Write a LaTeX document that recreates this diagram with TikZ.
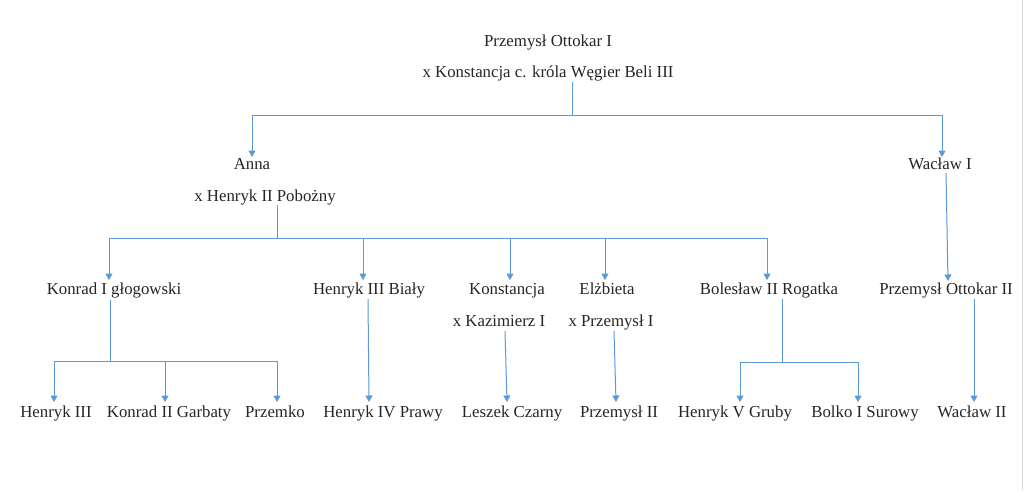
\documentclass[tikz,border=0pt]{standalone}
\usepackage{fontspec}
\setmainfont{Liberation Serif}
\usetikzlibrary{arrows.meta}
\definecolor{lnblue}{HTML}{5B9BD5}
\begin{document}
\begin{tikzpicture}[x=1pt,y=-1pt,
  person/.style={inner sep=0pt,text height=11.5pt,text depth=3.5pt,font=\fontsize{16.8}{19}\selectfont,text=black!85},
  link/.style={draw=lnblue,line width=1pt},
  arr/.style={link,-{Triangle[width=7pt,length=6.5pt]}}]
\useasboundingbox (0,0) rectangle (1024,490);
\fill[white] (0,0) rectangle (1024,490);
\draw[black!15,line width=1pt] (1022.5,0) -- (1022.5,490);
% texts
\node[person] (po1) at (548,42) {Przemysł Ottokar I};
\node[person] (po1x) at (548,73) {x Konstancja c. króla Węgier Beli III};
\node[person] (anna) at (252,165) {Anna};
\node[person] (annax) at (265,197) {x Henryk II Pobożny};
\node[person] (wac1) at (940,165) {Wacław I};
\node[person] (konr) at (114,290) {Konrad I głogowski};
\node[person] (hen3) at (369,290) {Henryk III Biały};
\node[person] (kons) at (507,290) {Konstancja};
\node[person] (konsx) at (499,322) {x Kazimierz I};
\node[person] (elz) at (607,290) {Elżbieta};
\node[person] (elzx) at (611,322) {x Przemysł I};
\node[person] (bol) at (769,290) {Bolesław II Rogatka};
\node[person] (po2) at (946,290) {Przemysł Ottokar II};
\node[person] (h3) at (56,413) {Henryk III};
\node[person] (k2) at (169,413) {Konrad II Garbaty};
\node[person] (prz) at (275,413) {Przemko};
\node[person] (h4) at (383,413) {Henryk IV Prawy};
\node[person] (les) at (512,413) {Leszek Czarny};
\node[person] (p2) at (619,413) {Przemysł II};
\node[person] (h5) at (735,413) {Henryk V Gruby};
\node[person] (bk) at (865,413) {Bolko I Surowy};
\node[person] (w2) at (972,413) {Wacław II};
% junction coordinates
\coordinate (s0) at (572,82);
\coordinate (j0) at (572,115);
\coordinate (ta) at (252,157);
\coordinate (tw) at (942,157);
\coordinate (s1) at (277,205);
\coordinate (j1) at (277,238);
\coordinate (t1) at (109,280);
\coordinate (t2) at (363,280);
\coordinate (t3) at (510,280);
\coordinate (t4) at (605,280);
\coordinate (t5) at (767,280);
\coordinate (sw) at (946,173);
\coordinate (tw2) at (948,281);
\coordinate (sk) at (110,300);
\coordinate (jk) at (110,361);
\coordinate (tk1) at (54,402);
\coordinate (tk2) at (165,402);
\coordinate (tk3) at (277,402);
\coordinate (sh) at (368,299);
\coordinate (th) at (369,402);
\coordinate (sl) at (505,331);
\coordinate (tl) at (507,402);
\coordinate (sp) at (614,331);
\coordinate (tp) at (616,402);
\coordinate (sb) at (782,299);
\coordinate (jb) at (782,362);
\coordinate (tb1) at (740,402);
\coordinate (tb2) at (858,402);
\coordinate (so) at (974,299);
\coordinate (to) at (974,402);
% connectors
\draw[link] (s0) -- (j0);
\draw[arr] (j0) -| (ta);
\draw[arr] (j0) -| (tw);
\draw[link] (s1) -- (j1);
\draw[arr] (j1) -| (t1);
\draw[arr] (j1) -| (t2);
\draw[arr] (j1) -| (t3);
\draw[arr] (j1) -| (t4);
\draw[arr] (j1) -| (t5);
\draw[arr] (sw) -- (tw2);
\draw[link] (sk) -- (jk);
\draw[arr] (jk) -| (tk1);
\draw[arr] (jk) -| (tk2);
\draw[arr] (jk) -| (tk3);
\draw[arr] (sh) -- (th);
\draw[arr] (sl) -- (tl);
\draw[arr] (sp) -- (tp);
\draw[link] (sb) -- (jb);
\draw[arr] (jb) -| (tb1);
\draw[arr] (jb) -| (tb2);
\draw[arr] (so) -- (to);
\end{tikzpicture}
\end{document}
